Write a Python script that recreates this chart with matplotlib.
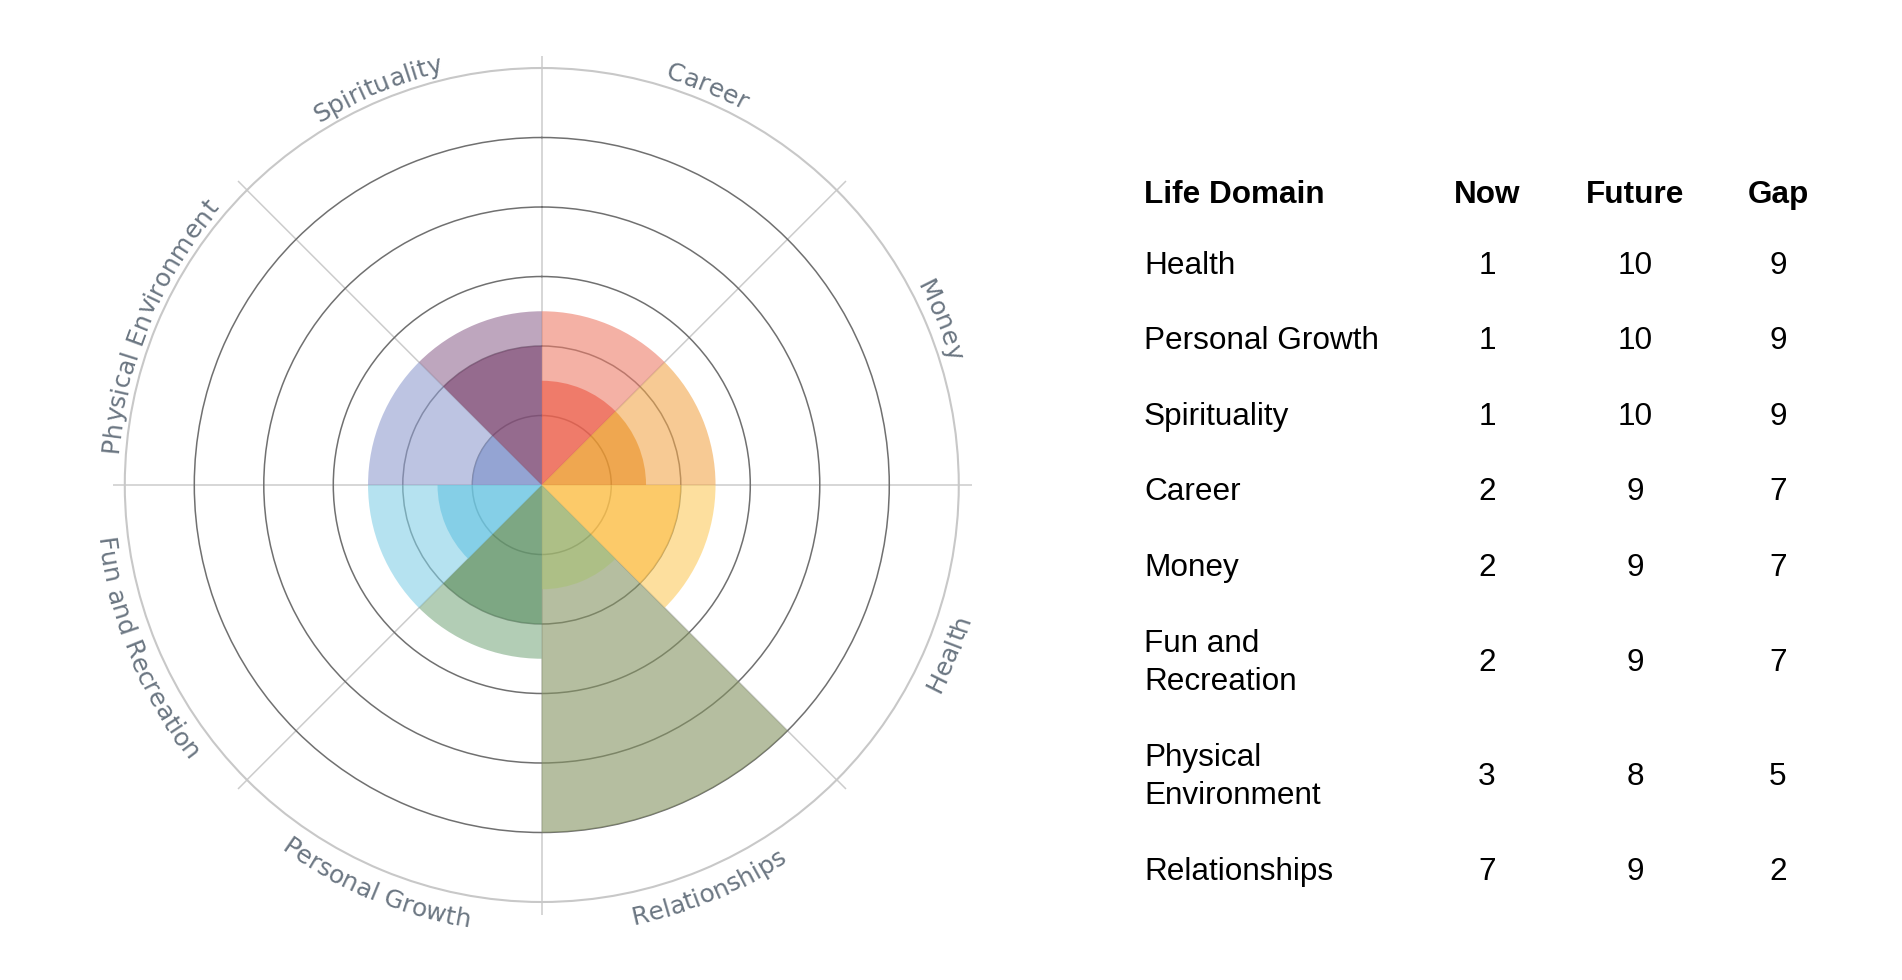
import textwrap

import numpy as np
import matplotlib
matplotlib.use("Agg")
import matplotlib.pyplot as plt
from matplotlib.colors import to_rgb
from matplotlib.font_manager import FontProperties, findfont, get_font

# Wheel sectors, clockwise from the top
domains = ["Career", "Money", "Health", "Relationships",
           "Personal Growth", "Fun and Recreation",
           "Physical Environment", "Spirituality"]
outer_vals = [5, 5, 5, 10, 5, 5, 5, 5]
inner_vals = [3, 3, 4, 3, 4, 3, 2, 4]
outer_colors = ["#f4b1a5", "#f7ca94", "#fee09e", "#b6bfa0",
                "#b2cdb6", "#b5e3f0", "#bdc5e3", "#bea6be"]
inner_colors = ["#f07b6a", "#f0a850", "#fdcb6a", "#aec086",
                "#7ea784", "#85d0e7", "#95a5d4", "#966b8e"]

# Table, sorted by gap
table_domains = ["Health", "Personal Growth", "Spirituality", "Career",
                 "Money", "Fun and Recreation", "Physical Environment",
                 "Relationships"]
now = [1, 1, 1, 2, 2, 2, 3, 7]
future = [10, 10, 10, 9, 9, 9, 8, 9]
gap = [9, 9, 9, 7, 7, 7, 5, 2]
headers = ["Life Domain", "Now", "Future", "Gap"]

ALPHA = 0.6
R_MAX = 12


def see_through(target, below="white", alpha=ALPHA):
    # colour that gives `target` when laid with `alpha` over `below`
    t = np.array(to_rgb(target))
    b = np.array(to_rgb(below))
    return tuple(np.clip((t - b * (1 - alpha)) / alpha, 0, 1)) + (alpha,)


fig = plt.figure(figsize=(19.02, 9.8), dpi=100)

# ---- wheel ----
ax = fig.add_axes([0.0656, 0.0796, 0.4385, 0.851], projection="polar")
ax.set_theta_zero_location("N")
ax.set_theta_direction(-1)

n = len(domains)
width = 2 * np.pi / n
theta = np.arange(n) * width + width / 2

ax.bar(theta, outer_vals, width=width, linewidth=0, zorder=2,
       color=[see_through(c) for c in outer_colors])
ax.bar(theta, inner_vals, width=width, linewidth=0, zorder=3,
       color=[see_through(d, l) for d, l in zip(inner_colors, outer_colors)])

ax.set_axisbelow(True)
ax.set_ylim(0, R_MAX)
ax.set_yticks([2, 4, 6, 8, 10])
ax.set_yticklabels([])
ax.yaxis.grid(True, color="#707070", linewidth=1.1)

ax.set_xticks(np.arange(n) * width)
ax.set_xticklabels([])
ax.xaxis.grid(True, color="#cccccc", linewidth=1.1)
ax.tick_params(axis="x", tick1On=False, tick2On=True, direction="out",
               length=9, width=1.1, color="#cccccc")
ax.spines["polar"].set_color("#c8c8c8")
ax.spines["polar"].set_linewidth(1.5)

# curved sector labels, one Text per character along the rim
label_prop = FontProperties(family="DejaVu Sans", size=18)
ft = get_font(findfont(label_prop))
ft.set_size(18, fig.dpi)
radius_px = 0.4385 * 1902 / 2
px_per_unit = radius_px / R_MAX
r_upper = 425 / px_per_unit
r_lower = 449 / px_per_unit

for name, th in zip(domains, theta):
    adv = np.array([ft.load_char(ord(ch)).linearHoriAdvance / 65536 for ch in name])
    offs = np.cumsum(adv) - adv / 2 - adv.sum() / 2
    phi_c = np.pi / 2 - th          # screen angle, counter-clockwise from east
    upper = np.sin(phi_c) > 0
    r = r_upper if upper else r_lower
    for ch, s in zip(name, offs):
        if ch == " ":
            continue
        if upper:
            phi = phi_c - s / (r * px_per_unit)
            rot = np.degrees(phi) - 90
        else:
            phi = phi_c + s / (r * px_per_unit)
            rot = np.degrees(phi) + 90
        ax.text(np.pi / 2 - phi, r, ch, fontproperties=label_prop,
                color="#6b7682", ha="center", va="baseline",
                rotation=rot, rotation_mode="anchor", clip_on=False)

# ---- table ----
tab = fig.add_axes([0, 0, 1, 1])
tab.set_xlim(0, 1902)
tab.set_ylim(980, 0)
tab.axis("off")

col_x = [1144, 1487, 1635, 1778]
col_ha = ["left", "center", "center", "center"]
font = dict(family="Liberation Sans", fontsize=22.7, color="black")
line_h = 38.5
half_row = 37.8

header_y = 202.7
for x, ha, h in zip(col_x, col_ha, headers):
    tab.text(x, header_y, h, ha=ha, va="baseline", fontweight="bold", **font)

y = 273.5
prev_lines = None
for name, a, b, c in zip(table_domains, now, future, gap):
    lines = textwrap.fill(name, 15).split("\n")
    if prev_lines is not None:
        y += 2 * half_row + (line_h / 2) * (prev_lines - 1 + len(lines) - 1)
    for k, line in enumerate(lines):
        ly = y + (k - (len(lines) - 1) / 2) * line_h
        tab.text(col_x[0], ly, line, ha="left", va="baseline", **font)
    for x, v in zip(col_x[1:], (a, b, c)):
        tab.text(x, y, str(v), ha="center", va="baseline", **font)
    prev_lines = len(lines)

fig.savefig("out.png", dpi=100, facecolor="white")
